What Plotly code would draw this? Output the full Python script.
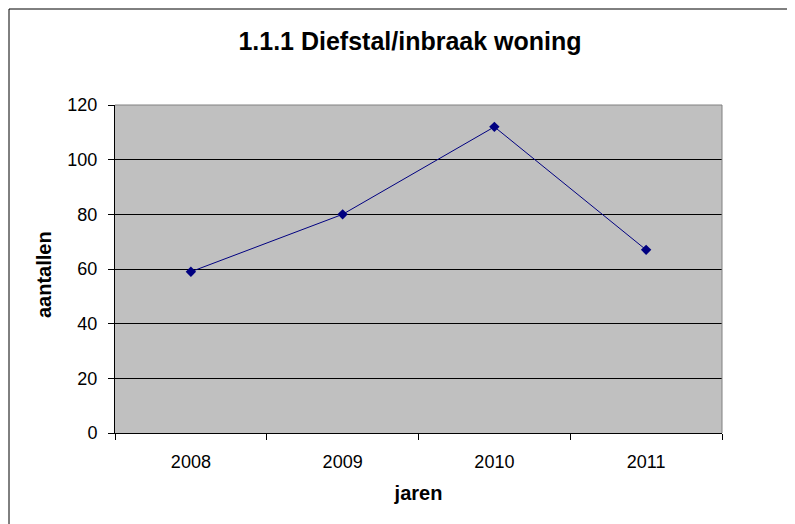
import plotly.graph_objects as go

years = ["2008", "2009", "2010", "2011"]
aantallen = [59, 80, 112, 67]

fig = go.Figure()
fig.add_trace(go.Scatter(
    x=years, y=aantallen, mode="lines+markers",
    line=dict(color="#000080", width=1),
    marker=dict(symbol="diamond", size=8, color="#000080"),
    showlegend=False,
))

W, H = 787, 516
L, T = 107, 97
PW, PH = 607, 328
fig.update_layout(
    width=W, height=H,
    margin=dict(l=L, r=W - L - PW, t=T, b=H - T - PH),
    paper_bgcolor="white",
    plot_bgcolor="#C0C0C0",
    font=dict(family="Liberation Sans, Arial", size=18, color="black"),
    title=dict(text="<b>1.1.1 Diefstal/inbraak woning</b>", x=(410 - 8) / W, xanchor="center",
               y=1 - 33 / H, yanchor="middle", font=dict(size=25)),
    xaxis=dict(type="category", range=[-0.5, 3.5], tickson="boundaries",
               ticks="outside", ticklen=6, tickcolor="black",
               showline=True, linecolor="black", linewidth=1,
               showgrid=False, ticklabelstandoff=12,
               title=dict(text="<b>jaren</b>", font=dict(size=20), standoff=15)),
    yaxis=dict(range=[0, 120], dtick=20, ticks="outside", ticklen=6, tickcolor="black",
               showline=True, linecolor="black", linewidth=1,
               showgrid=True, gridcolor="black", gridwidth=1, zeroline=False,
               ticklabelstandoff=7),
    annotations=[
        dict(text="<b>aantallen</b>", xref="paper", yref="paper",
             x=(44 - 8 - L) / PW, y=(T + PH - (275 - 8)) / PH,
             xanchor="center", yanchor="middle", textangle=-90,
             showarrow=False, font=dict(size=20)),
    ],
    shapes=[
        dict(type="line", xref="paper", yref="paper", x0=0, x1=1, y0=1, y1=1,
             line=dict(color="#808080", width=1)),
        dict(type="line", xref="paper", yref="paper", x0=1, x1=1, y0=0, y1=1,
             line=dict(color="#808080", width=1)),
        dict(type="rect", xref="paper", yref="paper", x0=(1 - L) / PW, x1=2.0,
             y0=-0.5, y1=(T + PH - 1) / PH, line=dict(color="black", width=1),
             fillcolor="rgba(0,0,0,0)", layer="below"),
    ],
)

fig.write_html("out.html")
